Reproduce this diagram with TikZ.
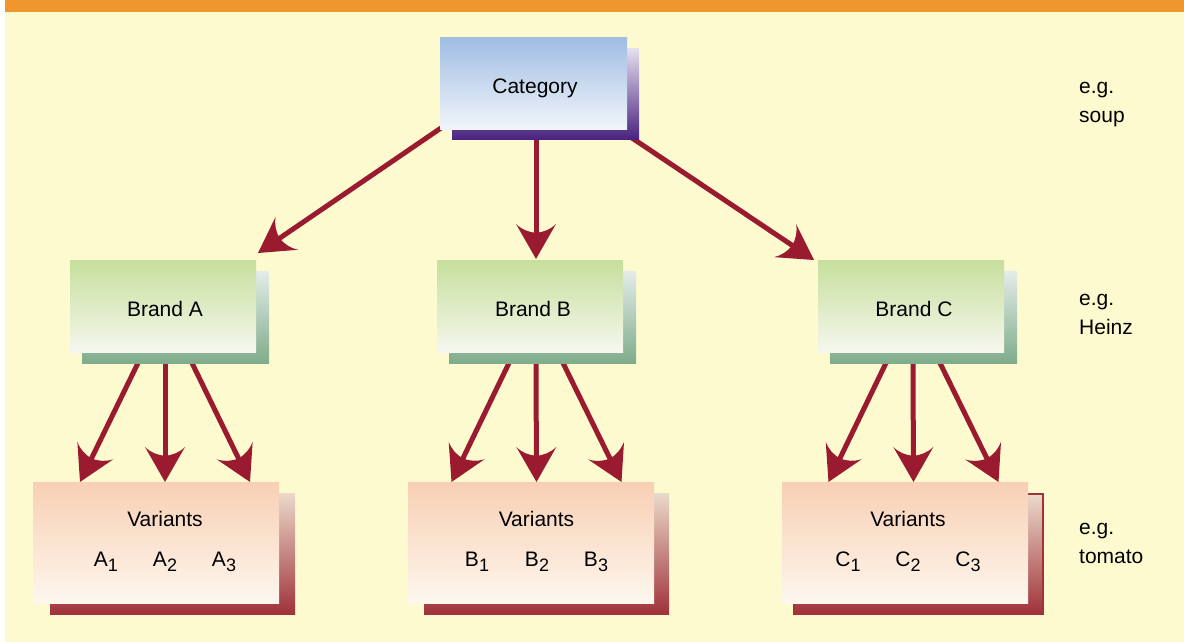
\documentclass[tikz,border=0pt]{standalone}
\usepackage{fontspec}
\setmainfont{Liberation Sans}
\usetikzlibrary{arrows.meta,calc}

\definecolor{barorange}{RGB}{239,151,46}
\definecolor{pagecream}{RGB}{254,250,207}
\definecolor{arrowred}{RGB}{154,27,47}
\definecolor{catTop}{RGB}{160,189,227}
\definecolor{catBot}{RGB}{241,245,250}
\definecolor{catShTop}{RGB}{228,222,236}
\definecolor{catShBot}{RGB}{74,35,128}
\definecolor{brTop}{RGB}{198,223,156}
\definecolor{brBot}{RGB}{246,247,238}
\definecolor{brShTop}{RGB}{228,236,232}
\definecolor{brShBot}{RGB}{127,172,139}
\definecolor{vaTop}{RGB}{248,207,180}
\definecolor{vaBot}{RGB}{254,247,238}
\definecolor{vaShTop}{RGB}{234,218,202}
\definecolor{vaShBot}{RGB}{160,50,58}

\pgfdeclarelayer{back}
\pgfdeclarelayer{mid}
\pgfsetlayers{back,mid,main}

% arrowhead with slightly concave back edges
\pgfdeclarearrow{
  name = Swept,
  parameters = {\the\pgfarrowlength,\the\pgfarrowwidth},
  setup code = {
    \pgfarrowssettipend{0pt}
    \pgfarrowssetlineend{-.5\pgfarrowlength}
    \pgfarrowssetbackend{-\pgfarrowlength}
    \pgfarrowssavethe\pgfarrowlength
    \pgfarrowssavethe\pgfarrowwidth
  },
  drawing code = {
    \pgfpathmoveto{\pgfqpoint{0pt}{0pt}}
    \pgfpathlineto{\pgfqpoint{-\pgfarrowlength}{.5\pgfarrowwidth}}
    \pgfpathquadraticcurveto{\pgfqpoint{-.77\pgfarrowlength}{.29\pgfarrowwidth}}{\pgfqpoint{-.75\pgfarrowlength}{0pt}}
    \pgfpathquadraticcurveto{\pgfqpoint{-.77\pgfarrowlength}{-.29\pgfarrowwidth}}{\pgfqpoint{-\pgfarrowlength}{-.5\pgfarrowwidth}}
    \pgfpathclose
    \pgfusepathqfill
  },
  defaults = {length=35pt, width=40pt}
}

% lowered, slightly smaller index digit
\newcommand\lowsub[1]{\raisebox{-5pt}{\fontsize{18}{18}\selectfont #1}}

\begin{document}
\begin{tikzpicture}[x=1pt,y=-1pt,
  panel/.style={rectangle, inner sep=0pt, outer sep=0pt, anchor=north west},
  catface/.style={panel, minimum width=187pt, minimum height=91pt, top color=catTop, bottom color=catBot},
  catshadow/.style={panel, minimum width=187pt, minimum height=90pt, top color=catShTop, bottom color=catShBot},
  brandface/.style={panel, minimum width=186pt, minimum height=92pt, top color=brTop, bottom color=brBot},
  brandshadow/.style={panel, minimum width=187pt, minimum height=92pt, top color=brShTop, bottom color=brShBot},
  varface/.style={panel, minimum width=246pt, minimum height=121pt, top color=vaTop, bottom color=vaBot},
  varshadow/.style={panel, minimum width=245pt, minimum height=121pt, top color=vaShTop, bottom color=vaShBot},
  txt/.style={font=\fontsize{21}{25}\selectfont, inner sep=0pt, anchor=base},
  note/.style={font=\fontsize{21}{25}\selectfont, inner sep=0pt, anchor=base west},
  arr/.style={draw=arrowred, fill=arrowred, line width=5pt,
    -{Swept[length=35pt, width=40pt]}}
]
\useasboundingbox (0,0) rectangle (1184,642);

\begin{pgfonlayer}{back}
  \fill[white] (0,0) rectangle (1184,642);
  \fill[pagecream] (5,12) rectangle (1184,642);
  \fill[barorange] (5,0) rectangle (1184,12);
\end{pgfonlayer}

% top level: category
\node[catshadow] (catS) at (452,49) {};
\node[catface] (cat) at (440,38) {};
\node[txt] (catT) at (535,94) {Category};

% middle level: brands
\node[brandshadow] (bAs) at (82,271) {};
\node[brandface] (bA) at (70,260) {};
\node[txt] (bAT) at (165,316) {Brand A};

\node[brandshadow] (bBs) at (449,271) {};
\node[brandface] (bB) at (437,260) {};
\node[txt] (bBT) at (533,316) {Brand B};

\node[brandshadow] (bCs) at (830,271) {};
\node[brandface] (bC) at (818,260) {};
\node[txt] (bCT) at (914,316) {Brand C};

% bottom level: variants
\node[varshadow] (vAs) at (50,493) {};
\node[varface] (vA) at (33,482) {};
\node[txt] (vAT) at (165,526) {Variants};
\node[txt] (a1) at (106,566.5) {A\lowsub{1}};
\node[txt] (a2) at (165,566.5) {A\lowsub{2}};
\node[txt] (a3) at (224,566.5) {A\lowsub{3}};

\node[varshadow] (vBs) at (424,493) {};
\node[varface] (vB) at (408,482) {};
\node[txt] (vBT) at (536.5,526) {Variants};
\node[txt] (b1) at (477,566.5) {B\lowsub{1}};
\node[txt] (b2) at (537,566.5) {B\lowsub{2}};
\node[txt] (b3) at (596,566.5) {B\lowsub{3}};

\node[varshadow, draw=vaShBot, line width=2pt, minimum width=249pt, minimum height=120pt] (vCs) at (794,494) {};
\node[varface] (vC) at (782,482) {};
\node[txt] (vCT) at (908,526) {Variants};
\node[txt] (c1) at (848,566.5) {C\lowsub{1}};
\node[txt] (c2) at (908,566.5) {C\lowsub{2}};
\node[txt] (c3) at (968,566.5) {C\lowsub{3}};

% examples on the right
\node[note] (eg1) at (1079,93) {e.g.};
\node[note] (ex1) at (1079,122) {soup};
\node[note] (eg2) at (1079,305) {e.g.};
\node[note] (ex2) at (1079,334) {Heinz};
\node[note] (eg3) at (1079,534) {e.g.};
\node[note] (ex3) at (1079,563) {tomato};

% connectors
\begin{pgfonlayer}{mid}
  \draw[arr] ($(cat.south west)+(1,-1)$) -- ($(bA.north east)+(2,-7)$);
  \draw[arr] ($(cat.south)+(2.5,10)$) -- ($(bB.north)+(6,-1)$);
  \draw[arr] ($(cat.south east)+(5,9)$) -- ($(bC.north west)+(-4,0)$);
  \foreach \s/\t in {-27/-85, 0/0, 27/85} {
    \draw[arr] ($(bAs.south)+(\s-10.5,0)$) -- ($(vA.north)+(\t+9,0)$);
    \draw[arr] ($(bBs.south)+(\s-6.5,0)$) -- ($(vB.north)+(\t+5.5,0)$);
    \draw[arr] ($(bCs.south)+(\s-10.5,0)$) -- ($(vC.north)+(\t+8.5,0)$);
  }
\end{pgfonlayer}
\end{tikzpicture}
\end{document}
